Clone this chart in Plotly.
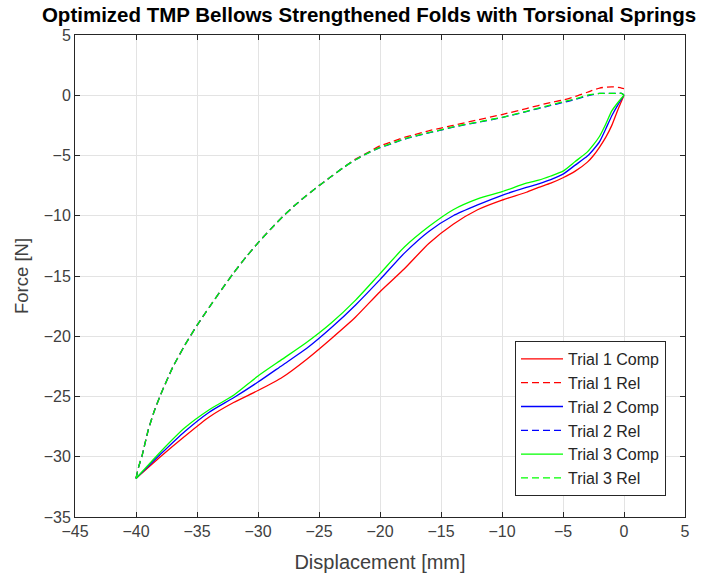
import plotly.graph_objects as go

# ---------------- data ----------------
comp_x = [0, -0.5, -1, -1.5, -2, -2.5, -3, -4, -5, -6, -7, -8, -10, -12, -14, -16,
          -18, -20, -22, -24, -26, -28, -30, -32, -34, -36, -38, -40]
t1_comp_y = [0, -1.2, -2.5, -3.5, -4.3, -5.0, -5.55, -6.3, -6.85, -7.3, -7.65, -8.05,
             -8.7, -9.5, -10.7, -12.3, -14.4, -16.3, -18.4, -20.2, -21.9, -23.4,
             -24.5, -25.5, -26.7, -28.3, -30.0, -31.8]
t2_comp_y = [0, -0.8, -1.7, -2.8, -3.85, -4.5, -5.05, -5.8, -6.55, -7.0, -7.35, -7.65,
             -8.3, -9.1, -10.0, -11.3, -13.1, -15.3, -17.4, -19.3, -21.0, -22.4,
             -23.8, -25.1, -26.3, -27.9, -29.8, -31.8]
t3_comp_y = [0, -0.6, -1.3, -2.4, -3.4, -4.1, -4.7, -5.5, -6.3, -6.7, -7.05, -7.3,
             -8.0, -8.6, -9.5, -10.9, -12.6, -14.8, -17.0, -18.9, -20.5, -21.9,
             -23.3, -24.9, -26.1, -27.6, -29.6, -31.8]

rel_x = [-40, -39.8, -39.5, -39, -38.5, -38, -37, -36, -35, -34, -33, -32, -31, -30,
         -29, -28, -27, -26, -25, -24, -23, -22, -21, -20, -19, -18, -16, -15, -14, -12,
         -10, -8, -6, -5, -4, -3, -2, -1, -0.2, 0]
t1_rel_y = [-31.8, -30.9, -29.9, -27.8, -26.2, -24.9, -22.6, -20.75, -19.1, -17.6, -16.15,
            -14.75, -13.45, -12.25, -11.15, -10.1, -9.15, -8.3, -7.5, -6.75, -6.0, -5.3,
            -4.75, -4.2, -3.85, -3.5, -2.95, -2.72, -2.5, -2.05, -1.6, -1.1, -0.6,
            -0.4, -0.1, 0.25, 0.6, 0.7, 0.6, 0.55]
t2_rel_y = [-31.8, -30.9, -29.9, -27.8, -26.2, -24.9, -22.6, -20.75, -19.1, -17.6, -16.15,
            -14.75, -13.45, -12.25, -11.15, -10.1, -9.15, -8.3, -7.5, -6.75, -6.0, -5.35,
            -4.8, -4.35, -4.0, -3.65, -3.12, -2.9, -2.65, -2.25, -1.85, -1.35, -0.85,
            -0.6, -0.35, -0.05, 0.15, 0.15, 0.15, 0]
t3_rel_y = [-31.8, -30.9, -29.9, -27.8, -26.2, -24.9, -22.6, -20.75, -19.1, -17.6, -16.15,
            -14.75, -13.45, -12.25, -11.15, -10.1, -9.15, -8.3, -7.5, -6.75, -6.0, -5.35,
            -4.8, -4.33, -3.98, -3.62, -3.1, -2.88, -2.62, -2.22, -1.83, -1.33, -0.8,
            -0.55, -0.3, 0.0, 0.15, 0.15, 0.15, 0]

x_ticks = [-45, -40, -35, -30, -25, -20, -15, -10, -5, 0, 5]
y_ticks = [5, 0, -5, -10, -15, -20, -25, -30, -35]

series = [
    ("Trial 1 Comp", comp_x, t1_comp_y, "#ff0000", "solid"),
    ("Trial 1 Rel", rel_x, t1_rel_y, "#ff0000", "dash"),
    ("Trial 2 Comp", comp_x, t2_comp_y, "#0000ff", "solid"),
    ("Trial 2 Rel", rel_x, t2_rel_y, "#0000ff", "dash"),
    ("Trial 3 Comp", comp_x, t3_comp_y, "#00ff00", "solid"),
    ("Trial 3 Rel", rel_x, t3_rel_y, "#00ff00", "dash"),
]

FONT = "Liberation Sans, Arial, sans-serif"
DARK = "#262626"
TICKC = "#404040"

fig = go.Figure()
for name, xs, ys, col, dash in series:
    fig.add_trace(go.Scatter(
        x=xs, y=ys, name=name, mode="lines",
        line=dict(color=col, width=1.3, dash="7px,4px" if dash == "dash" else "solid",
                  shape="spline", smoothing=0.6),
    ))

axis_common = dict(
    showline=True, linecolor=DARK, linewidth=1, mirror="allticks",
    ticks="inside", ticklen=5, tickcolor=DARK,
    showgrid=True, gridcolor="#e3e3e3", gridwidth=1,
    zeroline=False, tickfont=dict(family=FONT, size=16, color=TICKC),
)

fig.update_layout(
    width=718, height=580,
    margin=dict(l=75, r=33, t=35, b=63),
    paper_bgcolor="white", plot_bgcolor="white",
    title=dict(text="<b>Optimized TMP Bellows Strengthened Folds with Torsional Springs</b>",
               x=369 / 718, xanchor="center", y=1 - 15 / 580, yanchor="middle",
               yref="container", font=dict(family=FONT, size=20.5, color="black")),
    xaxis=dict(range=[-45, 5], tickvals=x_ticks,
               title=dict(text="Displacement [mm]", standoff=15,
                          font=dict(family=FONT, size=20, color=TICKC)),
               **axis_common),
    yaxis=dict(range=[-35, 5], tickvals=y_ticks,
               title=dict(text="Force [N]", standoff=10,
                          font=dict(family=FONT, size=18.5, color=TICKC)),
               **axis_common),
    legend=dict(x=(666 - 75) / 610, xanchor="right", y=(517 - 496) / 482, yanchor="bottom",
                bordercolor=DARK, borderwidth=1, bgcolor="white",
                font=dict(family=FONT, size=16, color=DARK),
                itemwidth=42, tracegroupgap=0),
    showlegend=True,
)

fig.write_html("out.html")
